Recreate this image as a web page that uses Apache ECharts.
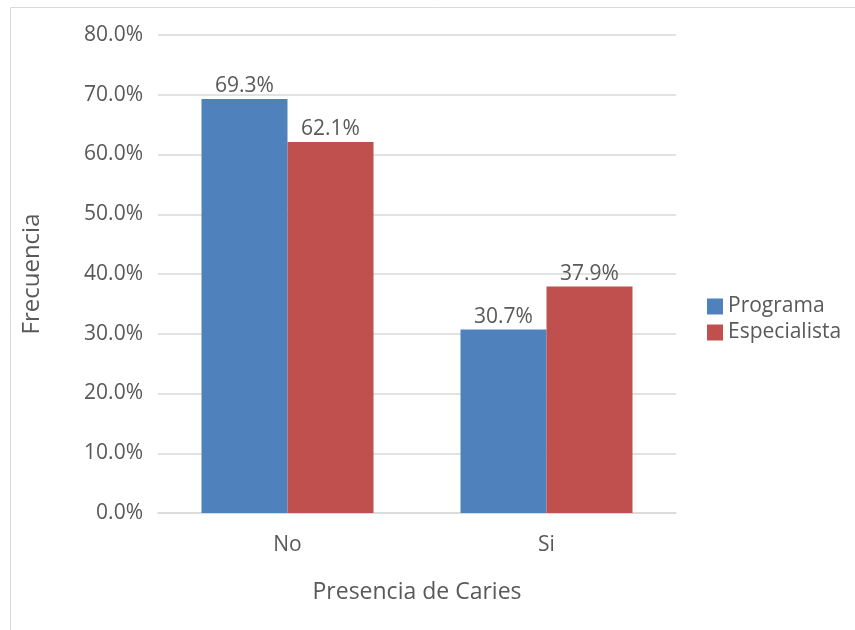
<!DOCTYPE html>
<html>
<head>
<meta charset="utf-8">
<script src="https://cdn.jsdelivr.net/npm/echarts@6/dist/echarts.min.js"></script>
<style>
  html, body { margin: 0; padding: 0; background: #fff; }
  #chart { width: 855px; height: 630px; }
</style>
</head>
<body>
<div id="chart"></div>
<script>
// Caries presence by care group (percent of patients)
const categories = ['No', 'Si'];
const programa = [69.3, 30.7];
const especialista = [62.1, 37.9];
const seriesNames = ['Programa', 'Especialista'];
const yTicks = [0, 10, 20, 30, 40, 50, 60, 70, 80];

const FONT = '"Open Sans", "Liberation Sans", sans-serif';
const TEXT = '#595959';

const chart = echarts.init(document.getElementById('chart'), null, { renderer: 'canvas' });

const labelOpt = {
  show: true,
  position: 'top',
  distance: 2,
  color: TEXT,
  fontFamily: FONT,
  fontSize: 21,
  formatter: p => p.value.toFixed(1) + '%'
};

chart.setOption({
  backgroundColor: '#fff',
  animation: false,
  textStyle: { fontFamily: FONT, color: TEXT },
  graphic: [{
    type: 'rect',
    shape: { x: 10.5, y: 7.5, width: 900, height: 700 },
    style: { fill: 'none', stroke: '#d9d9d9', lineWidth: 1 },
    silent: true,
    z: -1
  }],
  grid: { left: 158, right: 179, top: 35, bottom: 117 },
  legend: {
    orient: 'vertical',
    left: 702,
    top: 291,
    itemWidth: 16,
    itemHeight: 16,
    itemGap: 5,
    icon: 'rect',
    textStyle: { color: TEXT, fontFamily: FONT, fontSize: 21, padding: [0, 0, 0, 0] },
    data: seriesNames
  },
  xAxis: {
    type: 'category',
    data: categories,
    name: 'Presencia de Caries',
    nameLocation: 'middle',
    nameGap: 68,
    nameTextStyle: { color: TEXT, fontFamily: FONT, fontSize: 23 },
    axisLine: { show: true, lineStyle: { color: '#d9d9d9', width: 1.5 } },
    axisTick: { show: false },
    axisLabel: { color: TEXT, fontFamily: FONT, fontSize: 21, margin: 22 }
  },
  yAxis: {
    type: 'value',
    min: 0,
    max: 80,
    interval: 10,
    name: 'Frecuencia',
    nameLocation: 'middle',
    nameGap: 114,
    nameTextStyle: { color: TEXT, fontFamily: FONT, fontSize: 24 },
    axisLine: { show: false },
    axisTick: { show: false },
    splitLine: { lineStyle: { color: '#d9d9d9', width: 1.5 } },
    axisLabel: {
      color: TEXT, fontFamily: FONT, fontSize: 21, margin: 15,
      formatter: v => yTicks.includes(v) ? v.toFixed(1) + '%' : ''
    }
  },
  series: [
    {
      name: seriesNames[0],
      type: 'bar',
      data: programa,
      barWidth: 86,
      barGap: '0%',
      itemStyle: { color: '#4F81BD' },
      label: labelOpt
    },
    {
      name: seriesNames[1],
      type: 'bar',
      data: especialista,
      barWidth: 86,
      barGap: '0%',
      itemStyle: { color: '#C0504D' },
      label: labelOpt
    }
  ]
});
</script>
</body>
</html>
